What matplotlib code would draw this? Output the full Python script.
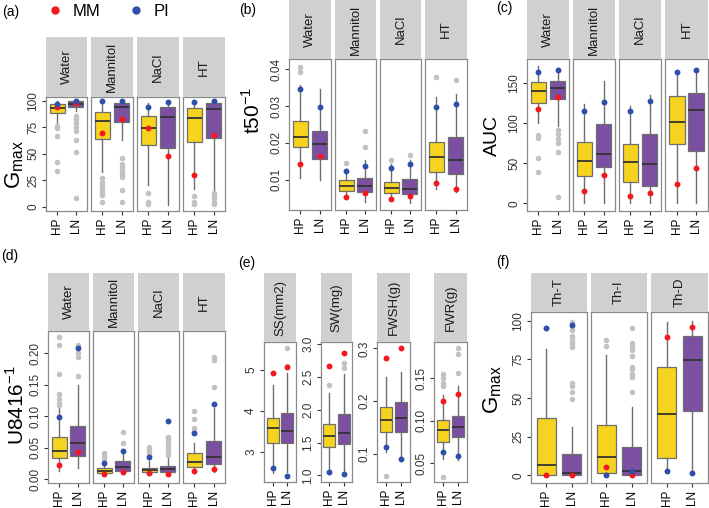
import numpy as np
import matplotlib.pyplot as plt
from matplotlib.lines import Line2D

plt.rcParams['font.family'] = ['Liberation Sans', 'DejaVu Sans']

W, H = 709, 508
YELLOW = '#F5D31E'
PURPLE = '#7B4FA2'
RED = '#F5161F'
BLUE = '#2E4FAA'
GREY_PT = '#C2C2C2'
STRIP = '#D0D0D0'
EDGE = '#6E6E6E'

genotypes = ['HP', 'LN']

# (a) G_max  -- box stats: (whisker low, q1, median, q3, whisker high)
a_facets = ['Water', 'Mannitol', 'NaCl', 'HT']
a_hp_box = [(78, 88.7, 92.8, 96.9, 99.5), (33, 63.6, 81, 89.6, 100), (20, 58.2, 74.5, 85.8, 98), (17, 60.7, 84, 93, 99)]
a_ln_box = [(90.5, 94.3, 96.9, 99.7, 100), (63, 80.2, 93.8, 97.5, 100), (1.5, 55.7, 85, 94.3, 99), (14, 64.8, 91.8, 97.5, 100)]
a_hp_out = [[76, 74, 67, 42, 34], [27, 23.6, 20.5, 17.4, 14.2, 11, 4], [13, 4.5, 2.5], [10, 4.5, 2.5]]
a_ln_out = [[86, 83, 79, 75, 71, 63, 52, 8], [45.7, 40.3, 37.2, 34, 30.8, 27.7, 15.8, 4.7], [], [13, 11, 8, 4.7, 2.5]]
a_mm = [(93.8, 97.5), (69.2, 82.7), (74.5, 48.1), (29.9, 67.6)]
a_pi = [(96.5, 99.5), (100, 100), (94.3, 98.7), (99, 100)]

# (b) t50^-1
b_facets = ['Water', 'Mannitol', 'NaCl', 'HT']
b_hp_box = [(0.0104, 0.0189, 0.0217, 0.0260, 0.0357), (0.0054, 0.0069, 0.0083, 0.0099, 0.0128),
            (0.0045, 0.0065, 0.0079, 0.0095, 0.0142), (0.0076, 0.0122, 0.0161, 0.0203, 0.0324)]
b_ln_box = [(0.0099, 0.0156, 0.0196, 0.0232, 0.0346), (0.0040, 0.0068, 0.0084, 0.0105, 0.0153),
            (0.0036, 0.0061, 0.0076, 0.0103, 0.0153), (0.0067, 0.0116, 0.0155, 0.0215, 0.0332)]
b_hp_out = [[0.0407, 0.0394], [0.0146], [0.0155], [0.038]]
b_ln_out = [[], [0.0232, 0.0190], [0.0166], [0.0371]]
b_mm = [(0.0143, 0.0164), (0.0052, 0.0065), (0.0049, 0.0056), (0.0090, 0.0076)]
b_pi = [(0.0346, 0.0297), (0.0124, 0.0138), (0.0131, 0.0143), (0.0299, 0.0305)]

# (c) AUC
c_facets = ['Water', 'Mannitol', 'NaCl', 'HT']
c_hp_box = [(100, 125, 139.5, 151, 171), (0, 34.6, 53, 77, 124), (0, 26.7, 51.7, 74, 121.7), (0, 74, 101.7, 134, 164.6)]
c_ln_box = [(96, 130, 143.5, 153, 169), (0, 45, 61.7, 98.75, 152), (0, 22, 48.75, 86, 135), (0, 65, 116, 138, 169)]
c_hp_out = [[85, 82, 57, 39], [], [], []]
c_ln_out = [[92, 87, 80, 75, 64, 7.5], [], [], []]
c_mm = [(118, 133), (15.4, 35), (9.6, 12.5), (24, 43.75)]
c_pi = [(164, 166.5), (114.6, 125.8), (114.6, 128), (164, 166.7)]

# (d) U8416^-1
d_facets = ['Water', 'Mannitol', 'NaCl', 'HT']
d_hp_box = [(0.0127, 0.0329, 0.0451, 0.0663, 0.1125), (0.0064, 0.0101, 0.0133, 0.017, 0.026),
            (0.0064, 0.0106, 0.0143, 0.018, 0.029), (0.0101, 0.0196, 0.0276, 0.041, 0.0568)]
d_ln_box = [(0.017, 0.0366, 0.0578, 0.0843, 0.1496), (0.0074, 0.0133, 0.0196, 0.0292, 0.0419),
            (0.006, 0.0106, 0.0154, 0.0207, 0.033), (0.0117, 0.0233, 0.0345, 0.0605, 0.1125)]
d_hp_out = [[0.2255, 0.2133, 0.167, 0.136, 0.128, 0.1215, 0.118], [0.041, 0.0366, 0.0313],
            [0.0515, 0.046, 0.041], [0.1088, 0.095, 0.0806, 0.0753]]
d_ln_out = [[0.213, 0.2, 0.1947, 0.164], [0.0753, 0.0578],
            [0.067, 0.063, 0.059, 0.054, 0.049, 0.0435, 0.038], [0.1947, 0.1894, 0.147]]
d_mm = [(0.0223, 0.0424), (0.008, 0.0106), (0.01, 0.0074), (0.0127, 0.0154)]
d_pi = [(0.0992, 0.208), (0.0249, 0.044), (0.0355, 0.093), (0.0727, 0.1188)]

# (e) seedling traits, each with its own y axis
e_vars = ['SS(mm2)', 'SW(mg)', 'FWSH(g)', 'FWR(g)']
e_hp_box = [(2.48, 3.23, 3.58, 3.82, 4.63), (1.05, 1.44, 1.60, 1.78, 2.25),
            (0.104, 0.1423, 0.165, 0.1883, 0.246), (0.0547, 0.0747, 0.089, 0.101, 0.130)]
e_ln_box = [(2.52, 3.23, 3.51, 3.94, 4.92), (1.0, 1.48, 1.65, 1.93, 2.54),
            (0.095, 0.142, 0.169, 0.199, 0.256), (0.054, 0.0806, 0.0931, 0.106, 0.141)]
e_hp_out = [[], [2.38], [0.058], [0.155, 0.15, 0.145, 0.141, 0.0343]]
e_ln_out = [[5.53, 5.1], [2.71, 2.64], [], [0.186, 0.179, 0.156]]
e_mm = [(4.93, 5.06), (2.67, 2.86), (0.282, 0.3), (0.1237, 0.1316)]
e_pi = [(2.6, 2.41), (1.05, 1.02), (0.1126, 0.09), (0.0637, 0.0586)]

# (f) G_max under thermal treatments
f_facets = ['Th-T', 'Th-I', 'Th-D']
f_hp_box = [(0, 0, 6.5, 37.3, 81.5), (0, 1.7, 11.6, 32.5, 77.8), (2.4, 11, 39.7, 70.3, 99.4)]
f_ln_box = [(0, 0, 1.5, 13.6, 31.5), (0, 0, 2.6, 18.5, 44.4), (1.3, 41.8, 74.8, 90.3, 100)]
f_hp_out = [[95.5], [87.5, 83.6], []]
f_ln_out = [[99.4, 96.5, 94, 90, 88.6, 86.4, 84.7, 83.2, 59.5, 57.8, 54, 49.4],
            [95.5, 85.3, 83.2, 81, 77.2, 70.3, 68.8, 65.5, 63.8, 54], []]
f_mm = [(0.2, 0.4), (5.4, 0), (89.4, 95.9)]
f_pi = [(95.5, 97), (0, 2.6), (3, 1.7)]

fig = plt.figure(figsize=(W / 100, H / 100), dpi=100)


def rect(x0, y0, x1, y1):
    return [x0 / W, 1 - y1 / H, (x1 - x0) / W, (y1 - y0) / H]


def stats(b):
    return dict(whislo=b[0], q1=b[1], med=b[2], q3=b[3], whishi=b[4])


def facet(xr, sy, py, label, hp, ln, hp_out, ln_out, mm, pi, ylim, yt, ytl, width, first):
    ax = fig.add_axes(rect(xr[0], py[0], xr[1], py[1]))
    bp = ax.bxp([stats(hp), stats(ln)], positions=[1, 2], widths=width, patch_artist=True,
                showfliers=False, showcaps=False,
                boxprops=dict(edgecolor=EDGE, linewidth=0.9),
                medianprops=dict(color='#333333', linewidth=1.3),
                whiskerprops=dict(color='#6E6E6E', linewidth=1.0), zorder=2)
    for patch, c in zip(bp['boxes'], [YELLOW, PURPLE]):
        patch.set_facecolor(c)
    for x, out in zip([1, 2], [hp_out, ln_out]):
        ax.scatter([x] * len(out), out, s=16, color=GREY_PT, lw=0, zorder=3)
    ax.scatter([1, 2], mm, s=18, color=RED, lw=0, zorder=4)
    ax.scatter([1, 2], pi, s=18, color=BLUE, lw=0, zorder=4)
    ax.set_xlim(0.4, 2.6)
    ax.set_ylim(*ylim)
    ax.set_xticks([1, 2])
    ax.set_xticklabels(genotypes, rotation=90)
    ax.tick_params(colors='#333333', length=3, width=0.8, labelsize=8.5, pad=2)
    ax.tick_params(axis='x', labelcolor='black')
    ax.set_yticks(yt)
    if first:
        ax.set_yticklabels(ytl, rotation=90, va='center')
    else:
        ax.tick_params(axis='y', left=False, labelleft=False)
    for s in ax.spines.values():
        s.set_color('#8A8A8A')
        s.set_linewidth(0.9)
    sax = fig.add_axes(rect(xr[0], sy[0], xr[1], sy[1]))
    sax.set_facecolor(STRIP)
    sax.set_xticks([])
    sax.set_yticks([])
    for s in sax.spines.values():
        s.set_visible(False)
    sax.text(0.5, 0.5, label, rotation=90, ha='center', va='center', fontsize=9.5,
             color='#1A1A1A', transform=sax.transAxes)
    return ax


def panel(xs, sy, py, labels, hp, ln, hp_out, ln_out, mm, pi, ylim, yt, ytl, width):
    for i, xr in enumerate(xs):
        facet(xr, sy, py, labels[i], hp[i], ln[i], hp_out[i], ln_out[i], mm[i], pi[i],
              ylim, yt, ytl, width, i == 0)


panel([(46, 87), (91, 133), (137, 179), (183, 225)], (37, 97), (97, 211), a_facets,
      a_hp_box, a_ln_box, a_hp_out, a_ln_out, a_mm, a_pi, (-4.1, 103.5),
      [0, 25, 50, 75, 100], ['0', '25', '50', '75', '100'], 0.8)
panel([(289, 331), (335, 376), (380, 421), (425, 467)], (0, 59), (59, 210), b_facets,
      b_hp_box, b_ln_box, b_hp_out, b_ln_out, b_mm, b_pi, (0.0018, 0.0428),
      [0.01, 0.02, 0.03, 0.04], ['0.01', '0.02', '0.03', '0.04'], 0.8)
panel([(527, 569), (573, 615), (619, 661), (665, 708)], (0, 59), (59, 211), c_facets,
      c_hp_box, c_ln_box, c_hp_out, c_ln_out, c_mm, c_pi, (-9.6, 180),
      [0, 50, 100, 150], ['0', '50', '100', '150'], 0.8)
panel([(48, 89), (93, 134), (138, 179), (183, 225)], (273, 331), (331, 483), d_facets,
      d_hp_box, d_ln_box, d_hp_out, d_ln_out, d_mm, d_pi, (-0.0064, 0.2355),
      [0, 0.05, 0.10, 0.15, 0.20], ['0.00', '0.05', '0.10', '0.15', '0.20'], 0.8)
panel([(531, 587), (591, 647), (651, 708)], (273, 312), (312, 483), f_facets,
      f_hp_box, f_ln_box, f_hp_out, f_ln_out, f_mm, f_pi, (-5, 105.6),
      [0, 25, 50, 75, 100], ['0', '25', '50', '75', '100'], 0.75)

# (e): four separate plots, each with its own y scale
e_x = [(264, 296), (321, 352), (377, 410), (434, 467)]
e_lims = [(2.27, 5.68), (0.9, 3.03), (0.047, 0.312), (0.028, 0.1927)]
e_ticks = [[3, 4, 5], [1.0, 1.5, 2.0, 2.5, 3.0], [0.1, 0.2, 0.3], [0.05, 0.10, 0.15]]
e_tlabels = [['3', '4', '5'], ['1.0', '1.5', '2.0', '2.5', '3.0'], ['0.1', '0.2', '0.3'], ['0.05', '0.10', '0.15']]
for i in range(4):
    facet(e_x[i], (273, 342), (342, 482), e_vars[i], e_hp_box[i], e_ln_box[i], e_hp_out[i],
          e_ln_out[i], e_mm[i], e_pi[i], e_lims[i], e_ticks[i], e_tlabels[i], 0.85, True)

# axis titles
fig.text(15 / W, 1 - 165 / H, r'G$_{\mathregular{max}}$', rotation=90, ha='center', va='center', fontsize=16)
fig.text(252 / W, 1 - 110 / H, 't50$^{\\mathregular{\u22121}}$', rotation=90, ha='center', va='center', fontsize=15)
fig.text(492 / W, 1 - 135 / H, 'AUC', rotation=90, ha='center', va='center', fontsize=14)
fig.text(17 / W, 1 - 405 / H, 'U8416$^{\\mathregular{\u22121}}$', rotation=90, ha='center', va='center', fontsize=15)
fig.text(493 / W, 1 - 390 / H, r'G$_{\mathregular{max}}$', rotation=90, ha='center', va='center', fontsize=16)

# panel letters
for lab, x, y in [('(a)', 2, 12), ('(b)', 239, 10), ('(c)', 496, 8),
                  ('(d)', 1, 256), ('(e)', 238, 263), ('(f)', 496, 262)]:
    fig.text(x / W, 1 - y / H, lab, ha='left', va='center', fontsize=10)

handles = [Line2D([], [], marker='o', ls='', color=RED, markersize=5),
           Line2D([], [], marker='o', ls='', color=BLUE, markersize=5)]
fig.legend(handles, ['MM', 'PI'], loc='center', bbox_to_anchor=(108 / W, 1 - 11 / H), ncol=2,
           frameon=False, fontsize=12, handletextpad=0.6, columnspacing=1.6, handlelength=1.0)

fig.savefig('out.png', dpi=100)
